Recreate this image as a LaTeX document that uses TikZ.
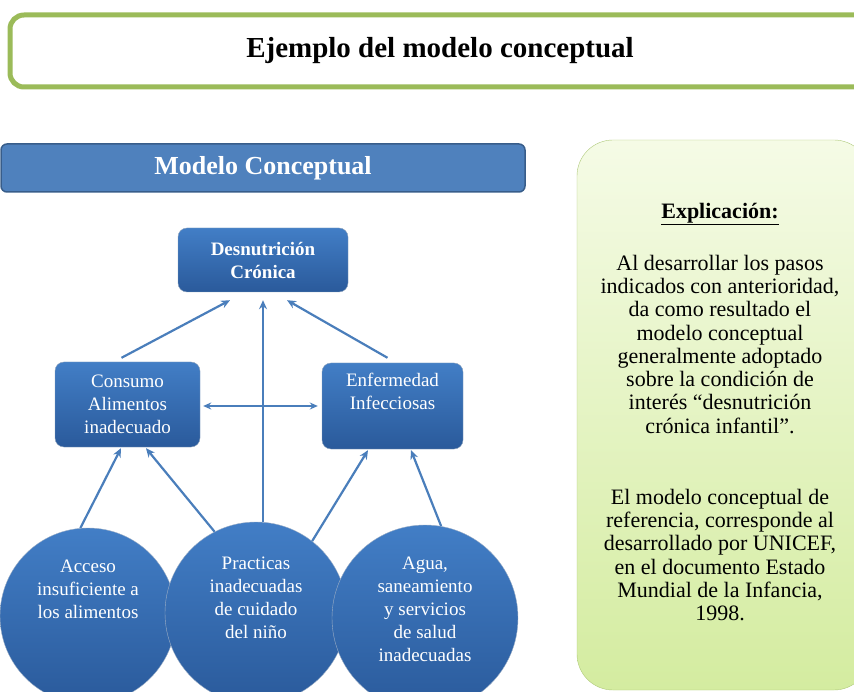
\documentclass[tikz,border=0pt]{standalone}
\usepackage{fontspec}
\setmainfont{Liberation Serif}
\usetikzlibrary{arrows.meta}
\definecolor{verdeborde}{RGB}{155,187,89}
\definecolor{azulbarra}{RGB}{79,129,189}
\definecolor{azulborde}{RGB}{56,93,138}
\definecolor{azulclaro}{RGB}{66,126,198}
\definecolor{azuloscuro}{RGB}{42,90,155}
\definecolor{flechaazul}{RGB}{74,126,187}
\definecolor{verdeclaro}{RGB}{245,251,230}
\definecolor{verdemedio}{RGB}{212,236,160}

\begin{document}
\begin{tikzpicture}[x=1pt, y=-1pt,
    caja/.style={rounded corners=9pt, top color=azulclaro, bottom color=azuloscuro, draw=azulborde!60, text=white, align=center, inner sep=0pt, font=\fontsize{19}{23}\selectfont},
    circulo/.style={circle, top color=azulclaro, bottom color=azuloscuro, draw=azulborde!50, text=white, align=center, inner sep=0pt, font=\fontsize{19}{23}\selectfont},
    flecha/.style={-{Stealth[length=9pt,width=8pt]}, line width=2.2pt, flechaazul},
    flechadoble/.style={{Stealth[length=8pt,width=7pt]}-{Stealth[length=8pt,width=7pt]}, line width=2.2pt, flechaazul}
  ]
  \useasboundingbox (0,0) rectangle (854,692);
  \clip (0,0) rectangle (854,692);

  \draw[verdeborde, line width=5pt, rounded corners=14pt, fill=white] (10,15) rectangle (1000,87);
  \node[font=\fontsize{29}{34}\selectfont\bfseries] (titulo) at (440,51) {Ejemplo del modelo conceptual};

  \node[draw=azulborde, line width=1.5pt, fill=azulbarra, rounded corners=6pt, minimum width=524, minimum height=48, text=white, font=\fontsize{26}{30}\selectfont\bfseries] (modelo) at (263,168) {Modelo Conceptual};

  % cajas
  \node[caja, minimum width=170, minimum height=64, font=\fontsize{19}{23}\selectfont\bfseries] (desnutricion) at (263,260) {Desnutrición\\Crónica};
  \node[caja, minimum width=145, minimum height=85] (consumo) at (127.5,404.5) {Consumo\\Alimentos\\inadecuado};
  \node[caja, minimum width=141, minimum height=86] (enfermedad) at (392.5,406) {Enfermedad\\Infecciosas\\\strut};

  % causas
  \node[circulo, minimum size=176] (acceso) at (88,616) {Acceso\\insuficiente a\\los alimentos\\\strut\\\strut};
  \node[circulo, minimum size=182] (practicas) at (256,613) {Practicas\\inadecuadas\\de cuidado\\del niño\\\strut};
  \node[circulo, minimum size=186] (agua) at (425,618) {Agua,\\saneamiento\\y servicios\\de salud\\inadecuadas\\[-12pt]\strut};

  \node[draw=verdeborde!80, rounded corners=36pt, top color=verdeclaro, bottom color=verdemedio, minimum width=293, minimum height=550] (explicacion) at (723.5,415) {};
  \node[align=center, font=\fontsize{22}{23.3}\selectfont] (textoexp) at (720,412) {\underline{\textbf{Explicación:}}\\[28.7pt]
    Al desarrollar los pasos\\indicados con anterioridad,\\da como resultado el\\modelo conceptual\\generalmente adoptado\\sobre la condición de\\interés “desnutrición\\crónica infantil”.\\[47.7pt]
    El modelo conceptual de\\referencia, corresponde al\\desarrollado por UNICEF,\\en el documento Estado\\Mundial de la Infancia,\\1998.};

  \draw[flecha] ([xshift=-6,yshift=4]consumo.north) -- ([xshift=-33,yshift=-8]desnutricion.south);
  \draw[flecha] ([xshift=-5,yshift=5]enfermedad.north) -- ([xshift=24,yshift=-8]desnutricion.south);
  \draw[flecha] (practicas.north -| desnutricion.south) -- ([yshift=-8]desnutricion.south);
  \draw[flechadoble] ([xshift=3,yshift=-1.5]consumo.east) -- ([xshift=-4]enfermedad.west);
  \draw[flecha] (acceso.95) -- ([xshift=-6.5,yshift=-1]consumo.south);
  \draw[flecha] (practicas.117) -- ([xshift=18.5,yshift=-1]consumo.south);
  \draw[flecha] (practicas.52) -- ([xshift=-24.5,yshift=-1]enfermedad.south);
  \draw[flecha] (agua.80) -- ([xshift=18.5,yshift=-1]enfermedad.south);
\end{tikzpicture}
\end{document}
